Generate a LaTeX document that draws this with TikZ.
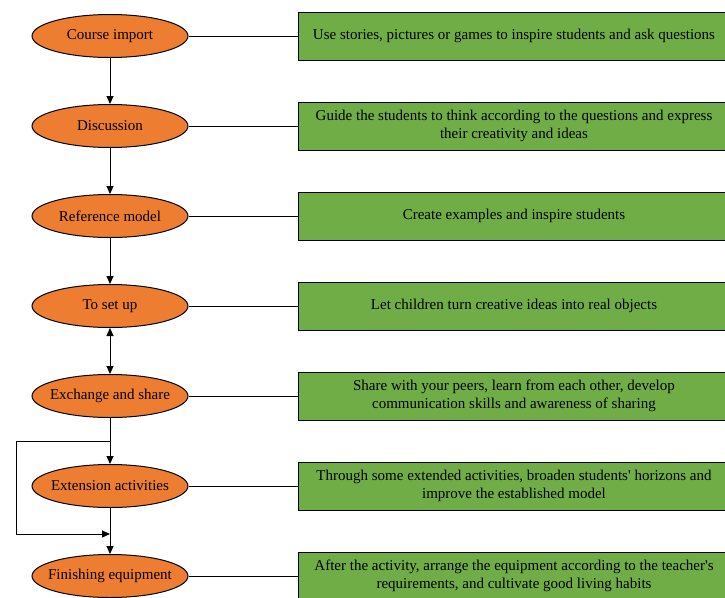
\documentclass[tikz,border=0pt]{standalone}
\usepackage{fontspec}
\setmainfont{Liberation Serif}
\usetikzlibrary{positioning,shapes.geometric,arrows.meta}
\definecolor{stageorange}{HTML}{ED7D31}
\definecolor{notegreen}{HTML}{70AD47}
\begin{document}
\begin{tikzpicture}[x=1pt,y=-1pt,
  every node/.style={font=\rmfamily\fontsize{15}{18}\selectfont},
  stage/.style={ellipse,draw,line width=1pt,fill=stageorange,
    minimum width=156pt,minimum height=43pt,inner xsep=-30pt,inner ysep=0pt},
  note/.style={rectangle,draw,line width=1pt,fill=notegreen,
    minimum width=432pt,minimum height=48pt,align=center,inner sep=2pt},
  link/.style={line width=1pt},
  flow/.style={line width=1pt,-{Triangle[length=8pt,width=7pt]}}]
  \useasboundingbox (0,0) rectangle (725,597);
  \node[stage] (ci) at (110,36) {Course import};
  \node[stage] (di) at (110,126) {Discussion};
  \node[stage] (rm) at (110,216) {Reference model};
  \node[stage] (su) at (110,306) {To set up};
  \node[stage] (es) at (110,396) {Exchange and share};
  \node[stage] (ea) at (110,486) {Extension activities};
  \node[stage] (fe) at (110,576) {Finishing equipment};
  \node[note,right=109pt of ci] (nci) {Use stories, pictures or games to inspire students and ask questions};
  \node[note,right=109pt of di] (ndi) {Guide the students to think according to the questions and express\\their creativity and ideas};
  \node[note,right=109pt of rm] (nrm) {Create examples and inspire students};
  \node[note,right=109pt of su] (nsu) {Let children turn creative ideas into real objects};
  \node[note,right=109pt of es] (nes) {Share with your peers, learn from each other, develop\\communication skills and awareness of sharing};
  \node[note,right=109pt of ea] (nea) {Through some extended activities, broaden students\textquotesingle{} horizons and\\improve the established model};
  \node[note,right=109pt of fe] (nfe) {After the activity, arrange the equipment according to the teacher\textquotesingle s\\requirements, and cultivate good living habits};
  \foreach \s in {ci,di,rm,su,es,ea,fe}
    \draw[link] (\s) -- (n\s);
  \draw[flow] (ci) -- (di);
  \draw[flow] (di) -- (rm);
  \draw[flow] (rm) -- (su);
  \draw[line width=1pt,{Triangle[length=8pt,width=7pt]}-{Triangle[length=8pt,width=7pt]}] (su) -- (es);
  \draw[flow] (es) -- (ea);
  \draw[flow] (ea) -- (fe);
  \coordinate (split) at (110,441);
  \coordinate (join) at (110,534);
  \draw[flow] (split) -- (16,441) |- (join);
\end{tikzpicture}
\end{document}
